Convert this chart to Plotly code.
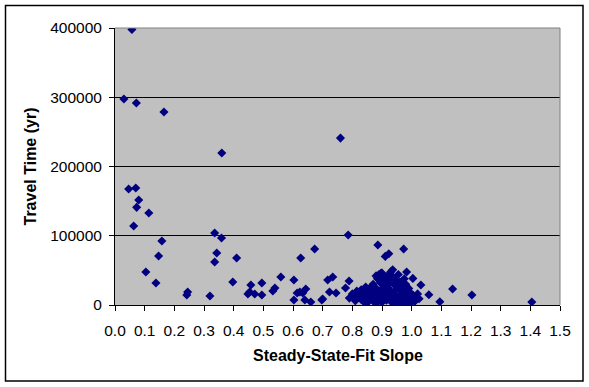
import plotly.graph_objects as go

# ---- data ----
slope = [
    0.057, 0.030, 0.072, 0.165, 0.360, 0.046, 0.070, 0.080, 0.073, 0.114,
    0.063, 0.336, 0.359, 0.158, 0.343, 0.147, 0.336, 0.104, 0.138, 0.245,
    0.242, 0.320, 0.410, 0.673, 0.626, 0.397, 0.458, 0.495, 0.559, 0.603,
    0.448, 0.454, 0.471, 0.495, 0.532, 0.539, 0.603, 0.614, 0.623, 0.633,
    0.643, 0.640, 0.660, 0.697, 0.700, 0.717, 0.723, 0.786, 0.886, 0.911,
    0.923, 0.973, 0.734, 0.789, 0.777, 0.745, 0.897, 0.936, 0.983, 1.004,
    1.031, 1.058, 1.095, 1.138, 1.203, 1.405, 0.760,
    0.790, 0.800, 0.805, 0.810, 0.820, 0.815, 0.830, 0.830, 0.840, 0.850,
    0.860, 0.850,
    0.870, 0.880, 0.885, 0.890, 0.895, 0.900, 0.900, 0.905, 0.910, 0.915,
    0.920, 0.925, 0.930, 0.935, 0.940, 0.945, 0.950, 0.955, 0.960, 0.970,
    0.965, 0.975, 0.980, 0.985, 0.990, 0.995, 1.000, 1.005, 1.010, 1.015,
    1.020, 1.025, 0.860, 0.865, 0.870, 0.875, 0.880, 0.885, 0.890, 0.895,
    0.900, 0.905, 0.910, 0.915, 0.920, 0.925, 0.930, 0.935, 0.940, 0.945,
    0.950, 0.955, 0.960, 0.965, 0.970, 0.975, 0.980, 0.985, 0.990, 0.995,
    0.880, 0.910, 0.930, 0.950, 0.845, 0.855, 0.840, 0.850, 0.925, 0.900,
]
travel_time = [
    398000, 297500, 291700, 278700, 219500, 167500, 169000, 151600, 141000, 132800,
    114000, 104000, 96700, 92400, 75100, 70800, 62100, 47650, 31800, 18800,
    14400, 13000, 67900, 80900, 67900, 33200, 28900, 31800, 40400, 36100,
    15900, 18800, 15900, 14400, 20200, 24500, 7200, 17300, 18800, 17300,
    23100, 7200, 4300, 7200, 8700, 36100, 18800, 101100, 86600, 70200,
    74100, 80900, 40400, 34700, 24500, 17300, 46200, 51000, 47600, 38400,
    28900, 14900, 4800, 23100, 14400, 4300, 241000,
    10000, 16000, 12000, 6000, 14000, 20000, 22000, 8000, 4000, 18000,
    25000, 12000,
    30000, 42000, 38000, 44000, 32000, 46000, 36000, 28000, 40000, 33000,
    43000, 37000, 48000, 41000, 30000, 36000, 26000, 44000, 33000, 28000,
    20000, 38000, 22000, 15000, 10000, 18000, 8000, 14000, 5000, 11000,
    16000, 9000, 20000, 12000, 6000, 17000, 24000, 9000, 14000, 21000,
    4000, 12000, 18000, 7000, 25000, 13000, 20000, 3000, 16000, 9000,
    23000, 12000, 6000, 15000, 2500, 10000, 30000, 5000, 24000, 3000,
    2000, 27000, 11000, 2000, 26000, 8000, 15000, 3000, 31000, 19000,
]

x_ticks = [i / 10 for i in range(16)]
x_tick_labels = [f"{v:.1f}" for v in x_ticks]
y_ticks = [0, 100000, 200000, 300000, 400000]
y_tick_labels = ["0", "100000", "200000", "300000", "400000"]

# ---- layout geometry ----
W, H = 589, 387
ML, MR, MT, MB = 115, 29, 28, 82
PW, PH = W - ML - MR, H - MT - MB


def px_x(px):
    return (px - ML) / PW


def px_y(py):
    return (H - MB - py) / PH


FONT = "Liberation Sans, Arial, sans-serif"

fig = go.Figure()
fig.add_trace(go.Scatter(
    x=slope, y=travel_time, mode="markers",
    marker=dict(symbol="diamond", size=7, color="#000080",
                line=dict(width=0)),
    showlegend=False, hoverinfo="x+y",
))

fig.update_layout(
    width=W, height=H,
    margin=dict(l=ML, r=MR, t=MT, b=MB, pad=0),
    paper_bgcolor="white",
    plot_bgcolor="#C0C0C0",
    font=dict(family=FONT, size=15, color="black"),
    xaxis=dict(
        range=[0, 1.5], tickvals=x_ticks, ticktext=x_tick_labels,
        showgrid=False, zeroline=False,
        showline=True, linecolor="black", linewidth=1,
        ticks="outside", ticklen=5, tickcolor="black", tickwidth=1,
        ticklabelstandoff=6,
        tickfont=dict(family=FONT, size=15.5),
        fixedrange=True,
    ),
    yaxis=dict(
        range=[0, 400000], tickvals=y_ticks, ticktext=y_tick_labels,
        showgrid=True, gridcolor="black", gridwidth=1,
        zeroline=False,
        showline=True, linecolor="black", linewidth=1,
        ticks="outside", ticklen=5, tickcolor="black", tickwidth=1,
        ticklabelstandoff=4,
        tickfont=dict(family=FONT, size=15.5),
        fixedrange=True,
    ),
    shapes=[
        dict(type="line", xref="paper", yref="paper", x0=0, x1=1, y0=1, y1=1,
             line=dict(color="#808080", width=1)),
        dict(type="line", xref="paper", yref="paper", x0=1, x1=1, y0=0, y1=1,
             line=dict(color="#808080", width=1)),
        dict(type="rect", xref="paper", yref="paper",
             x0=px_x(5.5), x1=px_x(583), y0=px_y(381), y1=px_y(5.5),
             line=dict(color="black", width=1.5), layer="above"),
    ],
    annotations=[
        dict(text="<b>Steady-State-Fit Slope</b>", xref="paper", yref="paper",
             x=0.5, y=px_y(355), xanchor="center", yanchor="middle",
             showarrow=False, font=dict(family=FONT, size=16)),
        dict(text="<b>Travel Time (yr)</b>", xref="paper", yref="paper",
             x=px_x(30), y=0.5, xanchor="center", yanchor="middle",
             textangle=-90, showarrow=False, font=dict(family=FONT, size=16)),
    ],
)

fig.write_html(
    "out.html",
    config={"displayModeBar": False},
    post_script="document.body.style.margin='0';document.body.style.padding='0';",
)
